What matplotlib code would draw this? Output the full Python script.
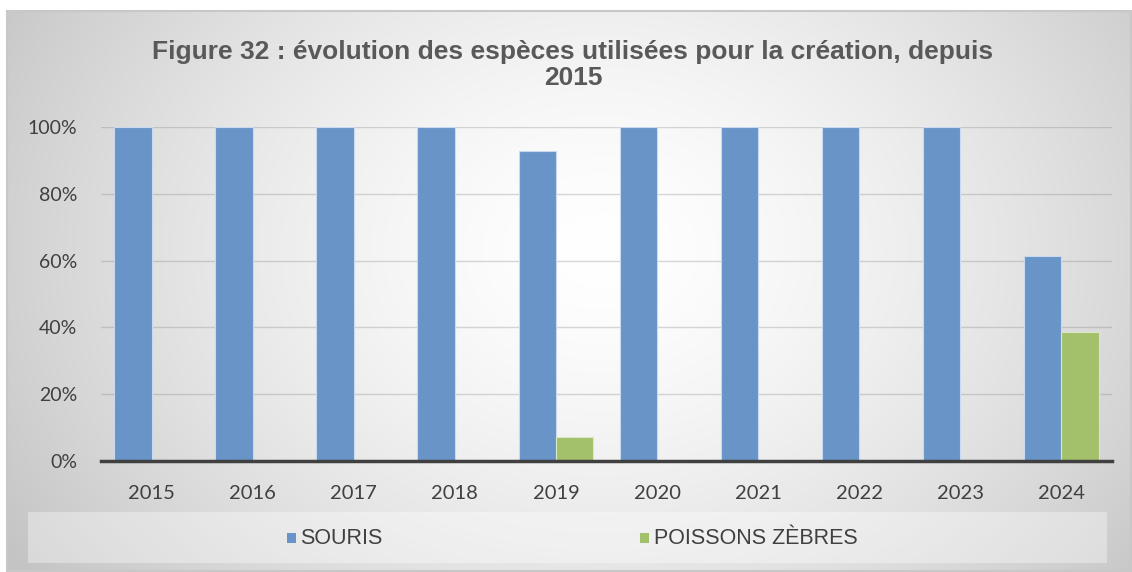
import numpy as np
import matplotlib
matplotlib.use("Agg")
import matplotlib.pyplot as plt
from matplotlib.patches import Rectangle
from matplotlib.ticker import PercentFormatter

# ---- data ----
years = ["2015", "2016", "2017", "2018", "2019", "2020", "2021", "2022", "2023", "2024"]
souris = [1.0, 1.0, 1.0, 1.0, 0.929, 1.0, 1.0, 1.0, 1.0, 0.615]
poissons = [0.0, 0.0, 0.0, 0.0, 0.071, 0.0, 0.0, 0.0, 0.0, 0.385]
series_names = ["SOURIS", "POISSONS ZÈBRES"]
yticks = [0, 0.2, 0.4, 0.6, 0.8, 1.0]
title = "Figure 32 : évolution des espèces utilisées pour la création, depuis\n2015"

W, H = 1132, 572
fig = plt.figure(figsize=(W / 100, H / 100), dpi=100)
fig.patch.set_facecolor("white")

# background gradient axes
bg = fig.add_axes([0, 0, 1, 1])
bg.set_xlim(0, W)
bg.set_ylim(H, 0)
bg.axis("off")
yy, xx = np.mgrid[0:H, 0:W]
cx, cy = 600, 250
d = np.sqrt(((xx - cx) / 1.0) ** 2 + ((yy - cy) / 0.8) ** 2)
t = np.clip(d / 700, 0, 1) ** 1.5
v = 1.0 - t * (1.0 - 0.77)
img = np.dstack([v, v, v])
x0, y0, x1, y1 = 7, 11, 1131, 571
bg.imshow(img[y0:y1, x0:x1], extent=(x0, x1, y1, y0), aspect="auto", zorder=0)
bg.add_patch(Rectangle((x0, y0), x1 - x0, y1 - y0, fill=False, edgecolor="#c8c8c8", lw=1.5, zorder=1))
# legend box
bg.add_patch(Rectangle((28, 512), 1107 - 28, 563 - 512, facecolor="white", alpha=0.35, edgecolor="none", zorder=1))

bg.text(573, 65, title, ha="center", va="center", fontsize=19, fontweight="bold",
        color="#595959", family="Liberation Sans", linespacing=1.15)

# main axes
ax = fig.add_axes([101 / W, 1 - 461 / H, (1112 - 101) / W, (461 - 127) / H])
ax.patch.set_alpha(0)
x = np.arange(len(years))
bw = 0.37
ax.bar(x - bw / 2, souris, bw, color="#6894C8", edgecolor="#c9daf0", lw=0.8, zorder=3)
ax.bar(x + bw / 2, poissons, bw, color="#A3C06A", edgecolor="#dbe8c6", lw=0.8, zorder=3)
ax.set_xlim(-0.5, len(years) - 0.5)
ax.set_ylim(0, 1.0)
ax.set_yticks(yticks)
ax.yaxis.set_major_formatter(PercentFormatter(1.0, decimals=0))
ax.set_xticks(x)
ax.set_xticklabels(years)
ax.grid(axis="y", color="#7f7f7f", alpha=0.3, lw=1, zorder=0)
ax.set_axisbelow(True)
for s in ["top", "right", "left"]:
    ax.spines[s].set_visible(False)
ax.spines["bottom"].set_color("#404040")
ax.spines["bottom"].set_linewidth(2.5)
ax.spines["bottom"].set_zorder(4)
ax.tick_params(axis="x", length=0, labelsize=14.5, labelcolor="#404040", pad=17)
ax.tick_params(axis="y", length=0, labelsize=14, labelcolor="#404040", pad=17)
for lab in ax.get_xticklabels() + ax.get_yticklabels():
    lab.set_family("Lato")

# legend
bg.add_patch(Rectangle((287, 533), 9, 10, facecolor="#6894C8", edgecolor="none", zorder=2))
bg.text(300, 538, series_names[0], ha="left", va="center", fontsize=15.5, color="#404040",
        family="Liberation Sans", zorder=2)
bg.add_patch(Rectangle((640, 533), 9, 10, facecolor="#A3C06A", edgecolor="none", zorder=2))
bg.text(654, 538, series_names[1], ha="left", va="center", fontsize=15.5, color="#404040",
        family="Liberation Sans", zorder=2)

fig.savefig("out.png", dpi=100)
